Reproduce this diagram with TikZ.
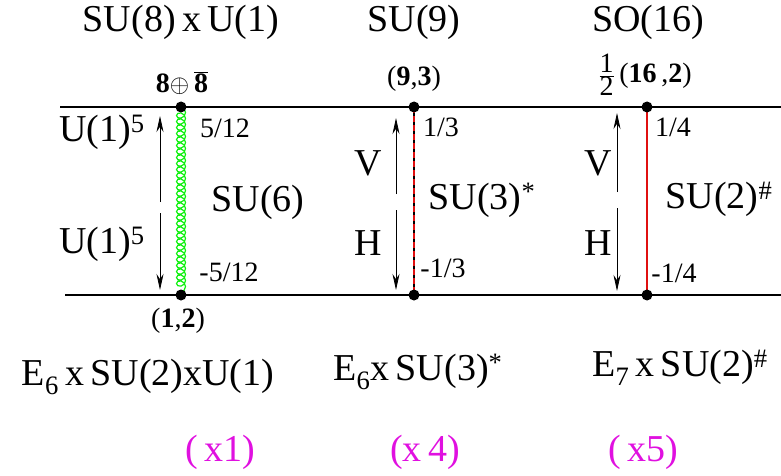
\documentclass[tikz,border=0pt]{standalone}
\usepackage{fontspec}
\setmainfont{Liberation Serif}
\usetikzlibrary{arrows.meta,decorations.pathmorphing}
\definecolor{gluon}{HTML}{10F010}
\definecolor{brane}{HTML}{E01010}
\definecolor{mult}{HTML}{E010E0}
\definecolor{shade}{HTML}{909090}

\begin{document}
\begin{tikzpicture}[x=1pt,y=-1pt,
    big/.style={font=\fontsize{38}{42}\selectfont},
    mid/.style={font=\fontsize{28}{32}\selectfont},
    dot/.style={circle,fill,inner sep=0pt,minimum size=11pt},
    flow/.style={line width=0.8pt,-{Stealth[length=16pt,width=7pt]}}]
  \useasboundingbox (0,0) rectangle (781,476);
  % the two horizontal lines
  \coordinate (tl) at (60,107);  \coordinate (tr) at (781,107);
  \coordinate (bl) at (65,295);  \coordinate (br) at (781,295);
  \draw[line width=1.5pt] (tl) -- (tr);
  \draw[line width=1.5pt] (bl) -- (br);
  % vertical links
  \coordinate (a1) at (181,107);  \coordinate (a2) at (181,295);
  \coordinate (b1) at (414,107);  \coordinate (b2) at (414,295);
  \coordinate (c1) at (647,107);  \coordinate (c2) at (647,295);
  \draw[gluon,line width=1.2pt,decorate,
        decoration={coil,amplitude=4.5pt,segment length=6pt,aspect=0.9}] (a1) -- (a2);
  \draw[shade,line width=2pt] (b1) -- (b2);
  \draw[brane,line width=2pt,dash pattern=on 6pt off 3pt] (b1) -- (b2);
  \draw[brane,line width=2pt] (c1) -- (c2);
  % junctions
  \foreach \p in {a1,a2,b1,b2,c1,c2}
    \node[dot] (\p dot) at (\p) {};
  % arrows
  \foreach \n/\x/\a/\b/\c/\d in {p/160/202/116/213/290, q/396/194/118/210/290, r/617/192/113/208/291} {
    \coordinate (\n up0) at (\x,\a);  \coordinate (\n up1) at (\x,\b);
    \coordinate (\n dn0) at (\x,\c);  \coordinate (\n dn1) at (\x,\d);
    \draw[flow] (\n up0) -- (\n up1);
    \draw[flow] (\n dn0) -- (\n dn1);
  }
  % groups on top
  \node[big] (g1) at (181,22) {SU(8)\,x\,U(1)};
  \node[big] (g2) at (414,22) {SU(9)};
  \node[big] (g3) at (648,22) {SO(16)};
  % representations
  \node[mid] (r1) at (182,83) {\textbf{8}$\oplus$\,$\overline{\mbox{\textbf{8}}}$};
  \node[mid] (r2) at (414,79) {(\textbf{9},\textbf{3})};
  \node[mid] (r3) at (645,75) {$\frac{\mbox{1}}{\mbox{2}}$\,(\textbf{16}\,,\textbf{2})};
  \node[mid] (r4) at (178,321) {(\textbf{1},\textbf{2})};
  % charges
  \node[mid] (q1) at (225,128) {5/12};
  \node[mid] (q2) at (229,272) {-5/12};
  \node[mid] (q3) at (441,127) {1/3};
  \node[mid] (q4) at (443,268) {-1/3};
  \node[mid] (q5) at (673,127) {1/4};
  \node[mid] (q6) at (674,273) {-1/4};
  % labels between the lines
  \node[big] (u1) at (102,132) {U(1)\textsuperscript{5}};
  \node[big] (u2) at (102,244) {U(1)\textsuperscript{5}};
  \node[big] (s6) at (258,202) {SU(6)};
  \node[big] (v1) at (368,163) {V};
  \node[big] (h1) at (368,243) {H};
  \node[big] (s3) at (482,200) {SU(3)\textsuperscript{*}};
  \node[big] (v2) at (598,163) {V};
  \node[big] (h2) at (598,243) {H};
  \node[big] (s2) at (719,199) {SU(2)\textsuperscript{\#}};
  % groups below
  \node[big] (e1) at (148,377) {E\textsubscript{6}\,x\,SU(2)xU(1)};
  \node[big] (e2) at (418,372) {E\textsubscript{6}x\,SU(3)\textsuperscript{*}};
  \node[big] (e3) at (680,368) {E\textsubscript{7}\,x\,SU(2)\textsuperscript{\#}};
  % multiplicities
  \node[big,mult] (m1) at (220,452) {(\,x1)};
  \node[big,mult] (m2) at (425,452) {(x\,4)};
  \node[big,mult] (m3) at (643,452) {(\,x5)};
\end{tikzpicture}
\end{document}
